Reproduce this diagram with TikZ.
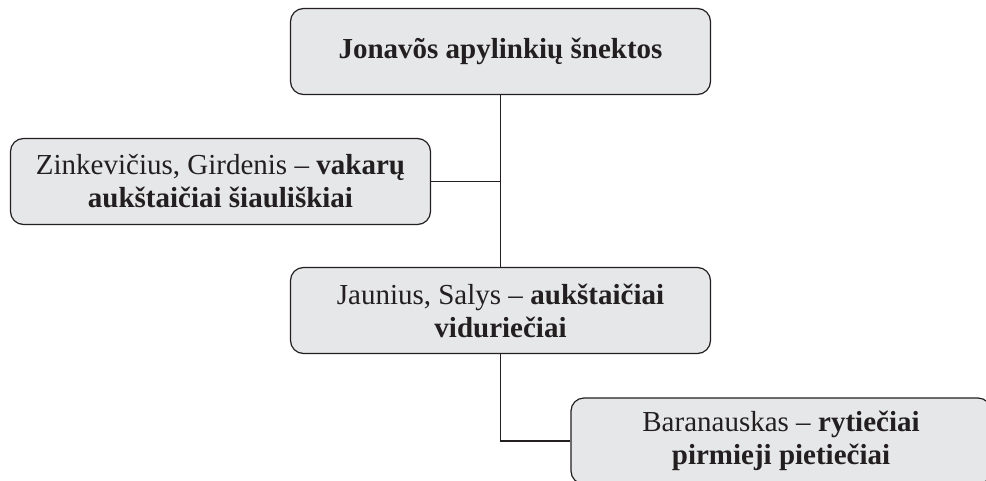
\documentclass[tikz,border=0pt]{standalone}
\usepackage{fontspec}
\setmainfont{Liberation Serif}
\usetikzlibrary{positioning}
\definecolor{paper}{RGB}{230,231,232}
\definecolor{ink}{RGB}{35,31,32}
\tikzset{
  box/.style={draw=ink,fill=paper,rounded corners=13pt,line width=1.2pt,
    minimum width=420pt,minimum height=86pt,align=center,
    font=\fontsize{29}{33}\selectfont,text=ink},
  link/.style={draw=ink,line width=1.3pt},
}
\begin{document}
\begin{tikzpicture}[x=1pt,y=-1pt]
    \useasboundingbox (0,0) rectangle (986,480);
    \node[box] (jonava) at (500.5,51.5) {\textbf{Jonavõs apylinkių šnektos}};
    \node[box] (zinkev) at (220.5,181.5) {Zinkevičius, Girdenis -- \textbf{vakarų}\\\textbf{aukštaičiai šiauliškiai}};
    \node[box] (jaunius) at (500.5,310.5) {Jaunius, Salys -- \textbf{aukštaičiai}\\\textbf{viduriečiai}};
    \node[box] (baran) at (781,441) {Baranauskas -- \textbf{rytiečiai}\\\textbf{pirmieji pietiečiai}};
    % links
    \draw[link] (jonava.south) -- (jaunius.north);
    \draw[link] (zinkev.east) -- (zinkev.east -| jonava.south);
    \draw[link] (jaunius.south) |- (baran.west);
\end{tikzpicture}
\end{document}
